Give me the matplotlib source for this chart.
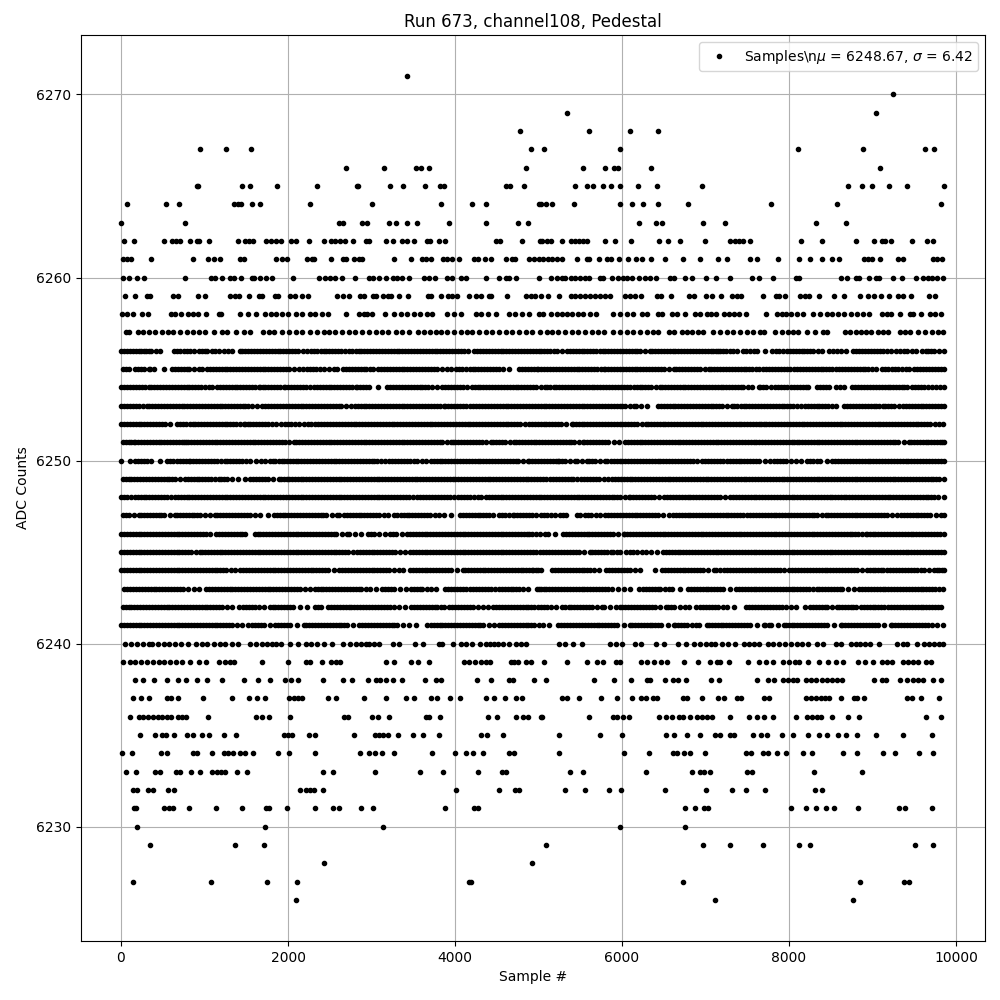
import matplotlib
matplotlib.use("Agg")
import matplotlib.pyplot as plt

s6271 = [3427]
s6270 = [9248]
s6269 = [5337, 9044]
s6268 = [4780, 5608, 6099, 6436]
s6267 = [950, 1261, 1560, 4912, 5070, 5979, 8110, 8888, 9630, 9738]
s6266 = [2697, 3152, 3535, 3595, 3691, 4852, 5536, 5800, 5907, 5955, 6350, 9090]
s6265 = [910, 926, 1452, 1548, 1871, 2350, 2821, 2841, 3216, 3380, 3643, 3818, 3874, 4612, 4664, 4828, 5441, 5585, 5657, 5777, 5873, 5979, 6195, 6422, 6961, 8708, 8876, 8996, 9200, 9416, 9858]
s6264 = [76, 543, 698, 1357, 1404, 1440, 1572, 1668, 2266, 3008, 3834, 4205, 4373, 5007, 5030, 5090, 5162, 5429, 5979, 6123, 6255, 6435, 6794, 7788, 8579, 9824]
s6263 = [4, 770, 2613, 2661, 2889, 2941, 3212, 3296, 3427, 3547, 3930, 4373, 4756, 4876, 6207, 6411, 6483, 6974, 7237, 8327, 8687]
s6262 = [40, 160, 519, 614, 662, 710, 826, 914, 938, 1057, 1404, 1488, 1536, 1584, 1740, 1800, 1855, 1919, 2039, 2091, 2254, 2434, 2514, 2566, 2625, 2685, 2781, 2937, 2973, 3176, 3260, 3368, 3420, 3511, 3667, 3699, 3810, 3882, 4493, 4541, 4804, 5016, 5046, 5098, 5154, 5281, 5385, 5437, 5489, 5537, 5577, 5796, 5920, 6111, 6447, 6555, 6698, 6998, 7297, 7353, 7405, 7453, 7537, 8148, 8391, 8806, 9022, 9110, 9150, 9226, 9477, 9657, 9720]
s6261 = [28, 68, 124, 364, 868, 1036, 1108, 1180, 1428, 1476, 1852, 1928, 1988, 2224, 2288, 2316, 2512, 2656, 2700, 2796, 2848, 2888, 3268, 3468, 3604, 3652, 3708, 3856, 3908, 3968, 4048, 4228, 4280, 4360, 4432, 4612, 4688, 4720, 4888, 4948, 5000, 5058, 5110, 5158, 5225, 5277, 5465, 5577, 5609, 5728, 5816, 5868, 5968, 6076, 6172, 6243, 6351, 6511, 6734, 6938, 7153, 7261, 7537, 7620, 7872, 8124, 8255, 8399, 8519, 8603, 8902, 8950, 8998, 9094, 9309, 9361, 9728, 9776, 9832]
s6260 = [20, 100, 188, 280, 768, 1080, 1124, 1204, 1300, 1356, 1432, 1564, 1596, 1660, 1732, 1804, 2056, 2368, 2448, 2508, 2568, 2648, 2800, 2968, 3020, 3088, 3172, 3260, 3308, 3368, 3448, 3628, 3688, 3760, 3908, 3968, 4076, 4132, 4376, 4528, 4608, 4648, 4736, 5006, 5145, 5217, 5277, 5317, 5385, 5437, 5497, 5557, 5609, 5736, 5776, 5876, 5956, 6016, 6056, 6116, 6207, 6275, 6335, 6403, 6575, 6623, 6758, 6842, 7010, 7130, 7297, 7561, 7645, 7812, 8080, 8120, 8618, 8698, 8798, 8842, 8962, 9042, 9082, 9245, 9349, 9517, 9609, 9669, 9709, 9768, 9840]
s6259 = [52, 172, 316, 348, 628, 688, 928, 1008, 1300, 1368, 1408, 1536, 1648, 1688, 1848, 1880, 2028, 2088, 2164, 2236, 2588, 2656, 2728, 2868, 2908, 3016, 3056, 3140, 3196, 3228, 3328, 3436, 3676, 3716, 3832, 3920, 3968, 4028, 4168, 4256, 4316, 4408, 4436, 4624, 4848, 4908, 4956, 5026, 5118, 5249, 5385, 5437, 5497, 5557, 5617, 5677, 5736, 5796, 5856, 6036, 6096, 6156, 6227, 6423, 6463, 6591, 6806, 6862, 7002, 7074, 7189, 7321, 7373, 7421, 7692, 7844, 7884, 7948, 8131, 8191, 8243, 8363, 8543, 8662, 8854, 8950, 9018, 9098, 9201, 9309, 9369, 9465, 9680, 9752]
s6258 = [8, 68, 148, 248, 328, 596, 648, 716, 800, 868, 928, 1012, 1168, 1200, 1420, 1516, 1620, 1728, 1796, 1860, 1928, 1996, 2100, 2164, 2268, 2328, 2408, 2476, 2696, 2848, 2908, 2948, 3008, 3160, 3268, 3348, 3428, 3508, 3580, 3668, 3728, 3900, 3988, 4072, 4248, 4316, 4396, 4488, 4648, 4720, 4808, 4888, 5000, 5050, 5145, 5217, 5277, 5337, 5397, 5477, 5537, 5617, 5684, 5896, 5976, 6056, 6128, 6235, 6295, 6435, 6475, 6595, 6655, 6758, 6874, 6934, 7014, 7062, 7130, 7225, 7285, 7341, 7401, 7489, 7720, 7852, 7912, 7964, 8020, 8092, 8171, 8291, 8371, 8451, 8511, 8591, 8658, 8738, 8810, 8890, 8954, 9109, 9169, 9217, 9333, 9449, 9489, 9577, 9688, 9748, 9816]
s6257 = [56, 100, 208, 268, 340, 408, 488, 568, 628, 708, 796, 868, 940, 1008, 1108, 1208, 1268, 1380, 1468, 1548, 1700, 1768, 1836, 1928, 2008, 2100, 2168, 2268, 2348, 2428, 2488, 2568, 2648, 2728, 2808, 2888, 2968, 3048, 3128, 3196, 3288, 3368, 3448, 3556, 3628, 3700, 3768, 3828, 3908, 3988, 4068, 4148, 4208, 4288, 4368, 4448, 4528, 4608, 4688, 4768, 4848, 4928, 5018, 5098, 5157, 5237, 5317, 5397, 5477, 5557, 5637, 5717, 5784, 5896, 5976, 6056, 6135, 6215, 6295, 6375, 6435, 6567, 6623, 6714, 6774, 6842, 6914, 6974, 7094, 7173, 7253, 7333, 7413, 7493, 7573, 7653, 7704, 7832, 7912, 7992, 8052, 8112, 8219, 8315, 8411, 8459, 8670, 8730, 8802, 8858, 8922, 8978, 9070, 9130, 9189, 9329, 9389, 9449, 9549, 9629, 9709, 9788, 9840]
s6256 = [0, 70, 140, 210, 270, 295, 365, 420, 470, 640, 710, 790, 870, 930, 1000, 1090, 1170, 1230, 1330, 1420, 1490, 1560, 1630, 1700, 1770, 1840, 1910, 1980, 2050, 2120, 2230, 2270, 2350, 2430, 2460, 2530, 2600, 2680, 2770, 2810, 2880, 2950, 3020, 3090, 3160, 3230, 3300, 3370, 3440, 3510, 3580, 3650, 3720, 3790, 3860, 3930, 4000, 4070, 4150, 4230, 4300, 4370, 4440, 4510, 4580, 4650, 4720, 4790, 4860, 4930, 5000, 5070, 5140, 5218, 5286, 5338, 5410, 5480, 5550, 5620, 5690, 5778, 5798, 5870, 5940, 6010, 6080, 6150, 6220, 6338, 6358, 6430, 6500, 6570, 6640, 6710, 6780, 6850, 6920, 6990, 7060, 7130, 7178, 7210, 7290, 7378, 7446, 7530, 7618, 7710, 7798, 7880, 7978, 8010, 8080, 8150, 8220, 8290, 8398, 8478, 8570, 8678, 8770, 8840, 8910, 8980, 9050, 9120, 9218, 9278, 9378, 9418, 9518, 9598, 9670, 9740, 9855]
e6256 = [35, 105, 175, 240, 330, 675, 750, 830, 965, 1035, 1130, 1280, 1455, 1525, 1595, 1665, 1735, 1805, 1875, 1945, 2015, 2085, 2175, 2310, 2390, 2495, 2565, 2640, 2725, 2845, 2915, 2985, 3055, 3125, 3195, 3265, 3335, 3405, 3475, 3545, 3615, 3685, 3755, 3825, 3895, 3965, 4035, 4110, 4265, 4335, 4405, 4475, 4545, 4615, 4685, 4755, 4825, 4895, 4965, 5035, 5105, 5180, 5374, 5445, 5515, 5585, 5655, 5735, 5834, 5905, 5975, 6045, 6115, 6185, 6280, 6394, 6465, 6535, 6605, 6675, 6745, 6815, 6885, 6955, 7025, 7095, 7155, 7250, 7335, 7488, 7575, 7840, 7930, 8045, 8115, 8185, 8255, 8345, 8525, 8625, 8805, 8875, 8945, 9015, 9085, 9170, 9330, 9470, 9635, 9705, 9800]
s6255 = [20, 100, 170, 240, 350, 400, 510, 610, 680, 750, 820, 930, 970, 1030, 1100, 1170, 1240, 1310, 1380, 1450, 1520, 1590, 1660, 1730, 1800, 1870, 1940, 2010, 2130, 2180, 2230, 2300, 2380, 2430, 2490, 2550, 2590, 2660, 2730, 2800, 2870, 2940, 3020, 3080, 3150, 3220, 3290, 3360, 3430, 3500, 3570, 3640, 3710, 3780, 3900, 3950, 4010, 4080, 4180, 4210, 4280, 4350, 4420, 4490, 4570, 4650, 4770, 4840, 4910, 4978, 4998, 5070, 5140, 5210, 5280, 5350, 5420, 5490, 5560, 5630, 5700, 5786, 5802, 5870, 5940, 6010, 6080, 6150, 6220, 6290, 6360, 6430, 6500, 6618, 6646, 6720, 6790, 6860, 6930, 7046, 7070, 7140, 7210, 7280, 7350, 7420, 7490, 7560, 7638, 7686, 7760, 7830, 7900, 7970, 8058, 8098, 8170, 8240, 8310, 8378, 8410, 8480, 8560, 8638, 8666, 8740, 8810, 8880, 8950, 9038, 9118, 9190, 9270, 9350, 9438, 9498, 9570, 9640, 9710, 9780, 9855]
e6255 = [60, 205, 275, 330, 645, 715, 785, 875, 1065, 1135, 1205, 1275, 1345, 1415, 1485, 1555, 1625, 1695, 1765, 1835, 1905, 1975, 2070, 2265, 2340, 2695, 2765, 2835, 2905, 2980, 3115, 3185, 3255, 3325, 3395, 3465, 3535, 3605, 3675, 3745, 3840, 4045, 4130, 4245, 4315, 4385, 4455, 4530, 4805, 4875, 4945, 5035, 5105, 5175, 5245, 5315, 5385, 5455, 5525, 5595, 5665, 5745, 5835, 5905, 5975, 6045, 6115, 6185, 6255, 6325, 6395, 6465, 6560, 6683, 6755, 6825, 6895, 6990, 7105, 7175, 7245, 7315, 7385, 7455, 7525, 7600, 7723, 7795, 7865, 7935, 8015, 8134, 8205, 8275, 8345, 8445, 8520, 8600, 8703, 8775, 8845, 8915, 8995, 9154, 9230, 9310, 9395, 9534, 9605, 9675, 9745, 9820]
s6254 = [0, 70, 140, 210, 290, 330, 400, 470, 540, 610, 680, 750, 820, 890, 960, 1050, 1090, 1150, 1220, 1290, 1360, 1430, 1500, 1570, 1650, 1660, 1730, 1800, 1870, 1950, 1970, 2040, 2110, 2180, 2260, 2310, 2380, 2450, 2520, 2590, 2660, 2730, 2810, 2830, 2900, 2970, 3080, 3190, 3260, 3330, 3400, 3470, 3540, 3610, 3680, 3780, 3850, 3920, 3990, 4060, 4140, 4200, 4270, 4340, 4410, 4480, 4550, 4620, 4690, 4760, 4830, 4900, 4970, 5078, 5106, 5180, 5250, 5320, 5390, 5460, 5530, 5600, 5670, 5740, 5810, 5880, 5950, 6020, 6098, 6138, 6210, 6280, 6350, 6458, 6478, 6550, 6620, 6690, 6760, 6830, 6900, 6970, 7040, 7110, 7180, 7250, 7320, 7390, 7450, 7506, 7558, 7638, 7658, 7730, 7838, 7866, 7938, 7978, 8058, 8098, 8170, 8226, 8338, 8410, 8478, 8558, 8658, 8758, 8830, 8900, 8970, 9040, 9110, 9180, 9250, 9320, 9378, 9418, 9478, 9550, 9620, 9718, 9758, 9855]
e6254 = [35, 105, 175, 250, 365, 435, 505, 575, 645, 715, 785, 855, 925, 1005, 1185, 1255, 1325, 1395, 1465, 1535, 1610, 1695, 1765, 1835, 1910, 2005, 2075, 2145, 2220, 2345, 2415, 2485, 2555, 2625, 2695, 2770, 2865, 2935, 3225, 3295, 3365, 3435, 3505, 3575, 3645, 3730, 3885, 3955, 4025, 4100, 4235, 4305, 4375, 4445, 4515, 4585, 4655, 4725, 4795, 4865, 4935, 5025, 5143, 5215, 5285, 5355, 5425, 5495, 5565, 5635, 5705, 5775, 5845, 5915, 5985, 6060, 6174, 6245, 6315, 6405, 6514, 6585, 6655, 6725, 6795, 6865, 6935, 7005, 7075, 7145, 7215, 7285, 7355, 7420, 7694, 7785, 7902, 8018, 8134, 8198, 8374, 8445, 8608, 8795, 8865, 8935, 9005, 9075, 9145, 9215, 9285, 9350, 9514, 9585, 9670, 9806]
s6253 = [0, 70, 140, 210, 310, 340, 410, 480, 550, 620, 690, 760, 830, 900, 970, 1040, 1110, 1180, 1250, 1320, 1390, 1460, 1520, 1570, 1690, 1730, 1800, 1870, 1940, 2010, 2080, 2150, 2220, 2290, 2360, 2430, 2500, 2570, 2640, 2750, 2800, 2870, 2940, 3010, 3080, 3150, 3220, 3290, 3360, 3430, 3500, 3570, 3640, 3710, 3780, 3870, 3880, 3950, 4020, 4090, 4180, 4220, 4290, 4360, 4430, 4500, 4570, 4640, 4710, 4780, 4850, 4920, 4990, 5060, 5130, 5200, 5270, 5340, 5410, 5480, 5550, 5620, 5690, 5760, 5830, 5900, 5970, 6040, 6138, 6166, 6298, 6430, 6500, 6570, 6640, 6710, 6780, 6850, 6920, 6990, 7060, 7130, 7200, 7318, 7346, 7420, 7490, 7560, 7630, 7700, 7770, 7840, 7910, 7980, 8050, 8138, 8190, 8260, 8330, 8400, 8470, 8558, 8658, 8730, 8800, 8870, 8940, 9018, 9046, 9120, 9190, 9260, 9370, 9398, 9470, 9540, 9610, 9678, 9718, 9790, 9855]
e6253 = [35, 105, 175, 260, 375, 445, 515, 585, 655, 725, 795, 865, 935, 1005, 1075, 1145, 1215, 1285, 1355, 1425, 1490, 1630, 1765, 1835, 1905, 1975, 2045, 2115, 2185, 2255, 2325, 2395, 2465, 2535, 2605, 2695, 2835, 2905, 2975, 3045, 3115, 3185, 3255, 3325, 3395, 3465, 3535, 3605, 3675, 3745, 3825, 3915, 3985, 4055, 4135, 4255, 4325, 4395, 4465, 4535, 4605, 4675, 4745, 4815, 4885, 4955, 5025, 5095, 5165, 5235, 5305, 5375, 5445, 5515, 5585, 5655, 5725, 5795, 5865, 5935, 6005, 6090, 6232, 6465, 6535, 6605, 6675, 6745, 6815, 6885, 6955, 7025, 7095, 7165, 7260, 7383, 7455, 7525, 7595, 7665, 7735, 7805, 7875, 7945, 8015, 8095, 8225, 8295, 8365, 8435, 8515, 8695, 8765, 8835, 8905, 8980, 9083, 9155, 9225, 9315, 9434, 9505, 9575, 9645, 9754, 9825]
s6252 = [0, 70, 140, 210, 280, 350, 420, 450, 530, 590, 670, 740, 860, 890, 960, 1030, 1100, 1170, 1240, 1310, 1380, 1470, 1480, 1550, 1620, 1690, 1760, 1860, 1920, 1960, 2030, 2130, 2190, 2280, 2360, 2400, 2470, 2540, 2610, 2680, 2750, 2820, 2890, 2960, 3030, 3100, 3170, 3240, 3310, 3380, 3450, 3520, 3590, 3660, 3730, 3800, 3870, 3940, 4010, 4080, 4150, 4220, 4290, 4360, 4430, 4500, 4570, 4640, 4710, 4780, 4890, 4920, 4990, 5060, 5130, 5200, 5270, 5398, 5410, 5480, 5550, 5620, 5690, 5760, 5830, 5900, 5970, 6040, 6110, 6180, 6290, 6306, 6380, 6450, 6520, 6590, 6660, 6730, 6800, 6870, 6940, 7010, 7080, 7150, 7220, 7290, 7360, 7430, 7500, 7570, 7640, 7698, 7730, 7800, 7870, 7940, 8010, 8080, 8150, 8220, 8290, 8360, 8430, 8500, 8570, 8640, 8710, 8780, 8850, 8920, 8990, 9060, 9130, 9200, 9270, 9340, 9410, 9480, 9550, 9620, 9690, 9798, 9850]
e6252 = [35, 105, 175, 245, 315, 385, 490, 705, 780, 830, 925, 995, 1065, 1135, 1205, 1275, 1345, 1425, 1515, 1585, 1655, 1725, 1810, 1995, 2080, 2235, 2320, 2435, 2505, 2575, 2645, 2715, 2785, 2855, 2925, 2995, 3065, 3135, 3205, 3275, 3345, 3415, 3485, 3555, 3625, 3695, 3765, 3835, 3905, 3975, 4045, 4115, 4185, 4255, 4325, 4395, 4465, 4535, 4605, 4675, 4745, 4835, 4955, 5025, 5095, 5165, 5235, 5335, 5445, 5515, 5585, 5655, 5725, 5795, 5865, 5935, 6005, 6075, 6145, 6235, 6343, 6415, 6485, 6555, 6625, 6695, 6765, 6835, 6905, 6975, 7045, 7115, 7185, 7255, 7325, 7395, 7465, 7535, 7605, 7670, 7765, 7835, 7905, 7975, 8045, 8115, 8185, 8255, 8325, 8395, 8465, 8535, 8605, 8675, 8745, 8815, 8885, 8955, 9025, 9095, 9165, 9235, 9305, 9375, 9445, 9515, 9585, 9655, 9745]
s6251 = [20, 90, 150, 170, 240, 310, 380, 450, 520, 590, 660, 730, 780, 800, 840, 910, 980, 1050, 1120, 1190, 1260, 1330, 1400, 1470, 1540, 1610, 1680, 1750, 1820, 1890, 1960, 2070, 2100, 2170, 2240, 2310, 2380, 2450, 2520, 2590, 2660, 2730, 2800, 2870, 2940, 3010, 3080, 3150, 3220, 3290, 3360, 3430, 3500, 3570, 3640, 3710, 3780, 3850, 3950, 3970, 4040, 4110, 4180, 4250, 4320, 4430, 4460, 4530, 4600, 4710, 4730, 4800, 4870, 4940, 5010, 5080, 5150, 5220, 5290, 5360, 5430, 5530, 5546, 5620, 5690, 5760, 5830, 5900, 6030, 6066, 6140, 6210, 6280, 6350, 6420, 6490, 6560, 6630, 6700, 6770, 6840, 6910, 6980, 7050, 7120, 7190, 7260, 7330, 7400, 7470, 7540, 7610, 7680, 7750, 7820, 7890, 7960, 8030, 8098, 8118, 8190, 8260, 8330, 8400, 8470, 8540, 8610, 8680, 8750, 8820, 8890, 8960, 9030, 9100, 9170, 9240, 9310, 9438, 9458, 9530, 9600, 9670, 9740, 9810, 9855]
e6251 = [55, 120, 205, 275, 345, 415, 485, 555, 625, 695, 755, 875, 945, 1015, 1085, 1155, 1225, 1295, 1365, 1435, 1505, 1575, 1645, 1715, 1785, 1855, 1925, 2015, 2135, 2205, 2275, 2345, 2415, 2485, 2555, 2625, 2695, 2765, 2835, 2905, 2975, 3045, 3115, 3185, 3255, 3325, 3395, 3465, 3535, 3605, 3675, 3745, 3815, 3900, 4005, 4075, 4145, 4215, 4285, 4375, 4495, 4565, 4655, 4765, 4835, 4905, 4975, 5045, 5115, 5185, 5255, 5325, 5395, 5480, 5583, 5655, 5725, 5795, 5965, 6103, 6175, 6245, 6315, 6385, 6455, 6525, 6595, 6665, 6735, 6805, 6875, 6945, 7015, 7085, 7155, 7225, 7295, 7365, 7435, 7505, 7575, 7645, 7715, 7785, 7855, 7925, 7995, 8064, 8154, 8225, 8295, 8365, 8435, 8505, 8575, 8645, 8715, 8785, 8855, 8925, 8995, 9065, 9135, 9205, 9275, 9375, 9494, 9565, 9635, 9705, 9775, 9832]
s6250 = [0, 110, 170, 240, 310, 360, 470, 550, 620, 710, 740, 810, 830, 900, 970, 1040, 1110, 1200, 1240, 1310, 1380, 1450, 1540, 1620, 1730, 1780, 1850, 1930, 1950, 2020, 2090, 2160, 2230, 2300, 2370, 2440, 2510, 2580, 2650, 2720, 2790, 2860, 2930, 3000, 3070, 3160, 3210, 3280, 3350, 3420, 3510, 3550, 3610, 3650, 3710, 3780, 3850, 3920, 3990, 4060, 4130, 4200, 4270, 4340, 4410, 4480, 4550, 4620, 4690, 4760, 4870, 4890, 4960, 5030, 5100, 5170, 5238, 5250, 5320, 5438, 5466, 5586, 5610, 5680, 5798, 5826, 5900, 5970, 6040, 6110, 6180, 6250, 6320, 6390, 6460, 6530, 6600, 6670, 6740, 6810, 6898, 6958, 7030, 7100, 7170, 7258, 7290, 7360, 7430, 7500, 7570, 7640, 7778, 7818, 7890, 7960, 8078, 8138, 8218, 8290, 8370, 8458, 8518, 8590, 8660, 8730, 8800, 8870, 8940, 9010, 9080, 9150, 9220, 9290, 9360, 9430, 9500, 9570, 9640, 9710, 9780, 9855]
e6250 = [205, 275, 585, 665, 775, 865, 935, 1005, 1075, 1155, 1275, 1345, 1415, 1495, 1675, 1815, 1890, 1985, 2055, 2125, 2195, 2265, 2335, 2405, 2475, 2545, 2615, 2685, 2755, 2825, 2895, 2965, 3035, 3115, 3245, 3315, 3385, 3465, 3745, 3815, 3885, 3955, 4025, 4095, 4165, 4235, 4305, 4375, 4445, 4515, 4585, 4655, 4725, 4815, 4925, 4995, 5065, 5135, 5205, 5285, 5380, 5526, 5645, 5740, 5863, 5935, 6005, 6075, 6145, 6215, 6285, 6355, 6425, 6495, 6565, 6635, 6705, 6775, 6855, 6994, 7065, 7135, 7215, 7325, 7395, 7465, 7535, 7605, 7710, 7854, 7925, 8020, 8254, 8330, 8554, 8625, 8695, 8765, 8835, 8905, 8975, 9045, 9115, 9185, 9255, 9325, 9395, 9465, 9535, 9605, 9675, 9745, 9818]
s6249 = [20, 90, 160, 230, 300, 370, 440, 510, 580, 650, 770, 800, 870, 940, 1010, 1080, 1170, 1200, 1270, 1400, 1480, 1550, 1620, 1690, 1760, 1890, 1920, 1990, 2010, 2080, 2150, 2220, 2290, 2360, 2430, 2500, 2570, 2640, 2710, 2780, 2850, 2920, 2990, 3060, 3130, 3200, 3270, 3340, 3410, 3480, 3550, 3620, 3690, 3760, 3830, 3900, 3970, 4040, 4110, 4180, 4250, 4320, 4390, 4460, 4530, 4600, 4670, 4740, 4810, 4880, 4950, 5020, 5090, 5138, 5210, 5280, 5350, 5418, 5458, 5506, 5580, 5650, 5720, 5838, 5878, 5950, 6020, 6090, 6160, 6230, 6300, 6370, 6440, 6510, 6580, 6650, 6720, 6790, 6860, 6930, 7000, 7070, 7140, 7210, 7280, 7350, 7420, 7490, 7560, 7630, 7700, 7770, 7840, 7910, 7980, 8050, 8120, 8190, 8260, 8330, 8400, 8470, 8540, 8610, 8680, 8750, 8820, 8890, 8960, 9030, 9100, 9170, 9240, 9310, 9380, 9450, 9520, 9590, 9660, 9730, 9798, 9855]
e6249 = [55, 125, 195, 265, 335, 405, 475, 545, 615, 710, 835, 905, 975, 1045, 1125, 1235, 1335, 1585, 1655, 1725, 1825, 1955, 2045, 2115, 2185, 2255, 2325, 2395, 2465, 2535, 2605, 2675, 2745, 2815, 2885, 2955, 3025, 3095, 3165, 3235, 3305, 3375, 3445, 3515, 3585, 3655, 3725, 3795, 3865, 3935, 4005, 4075, 4145, 4215, 4285, 4355, 4425, 4495, 4565, 4635, 4705, 4775, 4845, 4915, 4985, 5055, 5174, 5245, 5315, 5385, 5543, 5615, 5685, 5780, 5914, 5985, 6055, 6125, 6195, 6265, 6335, 6405, 6475, 6545, 6615, 6685, 6755, 6825, 6895, 6965, 7035, 7105, 7175, 7245, 7315, 7385, 7455, 7525, 7595, 7665, 7735, 7805, 7875, 7945, 8015, 8085, 8155, 8225, 8295, 8365, 8435, 8505, 8575, 8645, 8715, 8785, 8855, 8925, 8995, 9065, 9135, 9205, 9275, 9345, 9415, 9485, 9555, 9625, 9695, 9765]
s6248 = [0, 70, 170, 200, 270, 340, 410, 480, 550, 650, 680, 750, 820, 890, 960, 1030, 1100, 1170, 1240, 1310, 1380, 1450, 1520, 1590, 1660, 1730, 1800, 1870, 1940, 2010, 2080, 2150, 2220, 2290, 2360, 2430, 2500, 2570, 2640, 2710, 2780, 2850, 2920, 2990, 3060, 3130, 3200, 3270, 3340, 3410, 3500, 3550, 3620, 3690, 3760, 3830, 3900, 3990, 4040, 4110, 4180, 4270, 4310, 4370, 4440, 4510, 4580, 4650, 4720, 4790, 4860, 4930, 5000, 5070, 5140, 5210, 5280, 5350, 5420, 5490, 5560, 5630, 5700, 5770, 5840, 5910, 5980, 6078, 6098, 6170, 6240, 6310, 6380, 6498, 6538, 6610, 6680, 6750, 6820, 6890, 6960, 7030, 7100, 7170, 7290, 7330, 7400, 7470, 7540, 7610, 7680, 7750, 7820, 7890, 7960, 8030, 8100, 8170, 8240, 8310, 8380, 8450, 8520, 8590, 8658, 8686, 8760, 8830, 8900, 8970, 9040, 9110, 9180, 9250, 9320, 9390, 9460, 9530, 9600, 9670, 9740, 9855]
e6248 = [35, 120, 235, 305, 375, 445, 515, 600, 715, 785, 855, 925, 995, 1065, 1135, 1205, 1275, 1345, 1415, 1485, 1555, 1625, 1695, 1765, 1835, 1905, 1975, 2045, 2115, 2185, 2255, 2325, 2395, 2465, 2535, 2605, 2675, 2745, 2815, 2885, 2955, 3025, 3095, 3165, 3235, 3305, 3375, 3455, 3585, 3655, 3725, 3795, 3865, 3945, 4075, 4145, 4225, 4405, 4475, 4545, 4615, 4685, 4755, 4825, 4895, 4965, 5035, 5105, 5175, 5245, 5315, 5385, 5455, 5525, 5595, 5665, 5735, 5805, 5875, 5945, 6030, 6134, 6205, 6275, 6345, 6440, 6574, 6645, 6715, 6785, 6855, 6925, 6995, 7065, 7135, 7230, 7365, 7435, 7505, 7575, 7645, 7715, 7785, 7855, 7925, 7995, 8065, 8135, 8205, 8275, 8345, 8415, 8485, 8555, 8625, 8723, 8795, 8865, 8935, 9005, 9075, 9145, 9215, 9285, 9355, 9425, 9495, 9565, 9635, 9705, 9790]
s6247 = [20, 90, 210, 240, 310, 380, 450, 520, 650, 670, 740, 810, 880, 950, 1060, 1120, 1190, 1260, 1330, 1400, 1470, 1540, 1670, 1760, 1830, 1900, 1970, 2040, 2110, 2180, 2250, 2320, 2390, 2460, 2590, 2610, 2670, 2740, 2810, 2880, 2950, 3020, 3090, 3200, 3270, 3350, 3420, 3490, 3560, 3630, 3700, 3810, 3870, 3950, 4060, 4130, 4200, 4270, 4340, 4410, 4460, 4530, 4600, 4690, 4710, 4780, 4850, 4920, 5030, 5100, 5198, 5258, 5330, 5458, 5498, 5558, 5630, 5738, 5798, 5870, 5940, 6010, 6080, 6150, 6220, 6290, 6360, 6430, 6558, 6610, 6680, 6750, 6820, 6890, 6960, 7030, 7100, 7170, 7240, 7310, 7380, 7450, 7538, 7570, 7640, 7710, 7780, 7850, 7920, 7990, 8060, 8130, 8200, 8270, 8340, 8438, 8466, 8540, 8610, 8680, 8750, 8820, 8890, 8960, 9030, 9100, 9170, 9298, 9338, 9410, 9480, 9550, 9620, 9690, 9818, 9855]
e6247 = [55, 150, 275, 345, 415, 485, 585, 705, 775, 845, 915, 1005, 1155, 1225, 1295, 1365, 1435, 1505, 1605, 1865, 1935, 2005, 2075, 2145, 2215, 2285, 2355, 2425, 2525, 2705, 2775, 2845, 2915, 2985, 3055, 3145, 3310, 3385, 3455, 3525, 3595, 3665, 3755, 4095, 4165, 4235, 4305, 4375, 4565, 4645, 4745, 4815, 4885, 4975, 5065, 5150, 5295, 5595, 5685, 5835, 5905, 5975, 6045, 6115, 6185, 6255, 6325, 6395, 6495, 6645, 6715, 6785, 6855, 6925, 6995, 7065, 7135, 7205, 7275, 7345, 7415, 7495, 7605, 7675, 7745, 7815, 7885, 7955, 8025, 8095, 8165, 8235, 8305, 8390, 8503, 8575, 8645, 8715, 8785, 8855, 8925, 8995, 9065, 9135, 9235, 9375, 9445, 9515, 9585, 9655, 9755]
s6246 = [0, 70, 140, 210, 280, 350, 420, 490, 560, 630, 700, 770, 840, 910, 980, 1060, 1140, 1210, 1280, 1350, 1420, 1490, 1600, 1670, 1740, 1810, 1880, 1950, 2020, 2090, 2160, 2230, 2300, 2370, 2440, 2510, 2580, 2710, 2730, 2870, 2960, 3030, 3160, 3220, 3290, 3430, 3460, 3530, 3600, 3670, 3740, 3810, 3880, 3950, 4020, 4090, 4160, 4230, 4300, 4370, 4440, 4510, 4580, 4650, 4720, 4790, 4860, 4918, 4970, 5078, 5118, 5198, 5290, 5326, 5400, 5470, 5540, 5610, 5680, 5750, 5820, 5890, 6018, 6026, 6100, 6170, 6240, 6310, 6380, 6450, 6520, 6590, 6660, 6730, 6800, 6870, 6940, 7010, 7080, 7150, 7220, 7290, 7360, 7430, 7500, 7570, 7640, 7710, 7780, 7850, 7920, 7990, 8060, 8130, 8200, 8270, 8340, 8410, 8480, 8550, 8620, 8690, 8760, 8830, 8918, 8930, 9000, 9070, 9140, 9210, 9280, 9350, 9420, 9490, 9560, 9630, 9700, 9770, 9855]
e6246 = [35, 105, 175, 245, 315, 385, 455, 525, 595, 665, 735, 805, 875, 945, 1020, 1175, 1245, 1315, 1385, 1455, 1635, 1705, 1775, 1845, 1915, 1985, 2055, 2125, 2195, 2265, 2335, 2405, 2475, 2545, 2645, 2800, 2995, 3095, 3255, 3360, 3495, 3565, 3635, 3705, 3775, 3845, 3915, 3985, 4055, 4125, 4195, 4265, 4335, 4405, 4475, 4545, 4615, 4685, 4755, 4825, 4890, 5020, 5360, 5435, 5505, 5575, 5645, 5715, 5785, 5855, 5955, 6065, 6135, 6205, 6275, 6345, 6415, 6485, 6555, 6625, 6695, 6765, 6835, 6905, 6975, 7045, 7115, 7185, 7255, 7325, 7395, 7465, 7535, 7605, 7675, 7745, 7815, 7885, 7955, 8025, 8095, 8165, 8235, 8305, 8375, 8445, 8515, 8585, 8655, 8725, 8795, 8875, 8965, 9035, 9105, 9175, 9245, 9315, 9385, 9455, 9525, 9595, 9665, 9735, 9810]
s6245 = [0, 70, 140, 210, 280, 350, 420, 490, 560, 630, 700, 770, 840, 950, 970, 1040, 1110, 1180, 1250, 1320, 1390, 1460, 1530, 1600, 1670, 1740, 1810, 1880, 1950, 2020, 2090, 2160, 2230, 2300, 2370, 2440, 2510, 2580, 2650, 2720, 2830, 2860, 2930, 3000, 3070, 3140, 3210, 3280, 3400, 3460, 3530, 3600, 3670, 3740, 3810, 3880, 3950, 4020, 4090, 4160, 4230, 4300, 4370, 4440, 4510, 4580, 4650, 4720, 4790, 4860, 4930, 5018, 5058, 5130, 5200, 5270, 5340, 5410, 5480, 5618, 5638, 5710, 5780, 5866, 5898, 5978, 6050, 6130, 6238, 6286, 6418, 6486, 6560, 6630, 6700, 6770, 6840, 6910, 6980, 7050, 7120, 7190, 7260, 7330, 7400, 7470, 7540, 7610, 7680, 7750, 7820, 7890, 7960, 8030, 8100, 8170, 8240, 8310, 8380, 8450, 8520, 8590, 8660, 8730, 8800, 8870, 8940, 9010, 9080, 9150, 9220, 9290, 9360, 9430, 9500, 9570, 9640, 9710, 9780, 9855]
e6245 = [35, 105, 175, 245, 315, 385, 455, 525, 595, 665, 735, 805, 895, 1005, 1075, 1145, 1215, 1285, 1355, 1425, 1495, 1565, 1635, 1705, 1775, 1845, 1915, 1985, 2055, 2125, 2195, 2265, 2335, 2405, 2475, 2545, 2615, 2685, 2775, 2895, 2965, 3035, 3105, 3175, 3245, 3340, 3495, 3565, 3635, 3705, 3775, 3845, 3915, 3985, 4055, 4125, 4195, 4265, 4335, 4405, 4475, 4545, 4615, 4685, 4755, 4825, 4895, 4975, 5095, 5165, 5235, 5305, 5375, 5445, 5550, 5675, 5745, 5825, 5940, 6090, 6185, 6350, 6523, 6595, 6665, 6735, 6805, 6875, 6945, 7015, 7085, 7155, 7225, 7295, 7365, 7435, 7505, 7575, 7645, 7715, 7785, 7855, 7925, 7995, 8065, 8135, 8205, 8275, 8345, 8415, 8485, 8555, 8625, 8695, 8765, 8835, 8905, 8975, 9045, 9115, 9185, 9255, 9325, 9395, 9465, 9535, 9605, 9675, 9745, 9818]
s6244 = [0, 70, 140, 210, 280, 350, 420, 490, 560, 630, 700, 770, 840, 910, 980, 1050, 1120, 1190, 1260, 1370, 1430, 1500, 1570, 1640, 1710, 1780, 1850, 1920, 1990, 2060, 2130, 2200, 2270, 2340, 2410, 2480, 2610, 2650, 2720, 2790, 2860, 2930, 3000, 3070, 3140, 3210, 3330, 3380, 3460, 3530, 3600, 3670, 3740, 3810, 3880, 3950, 4090, 4120, 4190, 4260, 4330, 4400, 4470, 4540, 4610, 4680, 4750, 4820, 4890, 4970, 5030, 4918, 4998, 5158, 5198, 5270, 5340, 5410, 5480, 5550, 5620, 5726, 5810, 5880, 5950, 6020, 6090, 6210, 6390, 6478, 6550, 6620, 6690, 6760, 6830, 6900, 6970, 7098, 7130, 7218, 7258, 7330, 7400, 7470, 7540, 7610, 7680, 7750, 7820, 7890, 7998, 8038, 8110, 8180, 8250, 8320, 8390, 8460, 8530, 8600, 8670, 8740, 8810, 8870, 8930, 9000, 9070, 9130, 9178, 9250, 9320, 9390, 9460, 9530, 9618, 9678, 9738, 9800, 9855]
e6244 = [35, 105, 175, 245, 315, 385, 455, 525, 595, 665, 735, 805, 875, 945, 1015, 1085, 1155, 1225, 1315, 1465, 1535, 1605, 1675, 1745, 1815, 1885, 1955, 2025, 2095, 2165, 2235, 2305, 2375, 2445, 2545, 2685, 2755, 2825, 2895, 2965, 3035, 3105, 3175, 3270, 3495, 3565, 3635, 3705, 3775, 3845, 3915, 4020, 4155, 4225, 4295, 4365, 4435, 4505, 4575, 4645, 4715, 4785, 4855, 4930, 5235, 5305, 5375, 5445, 5515, 5585, 5670, 5845, 5915, 5985, 6055, 6150, 6515, 6585, 6655, 6725, 6795, 6865, 6935, 7035, 7175, 7295, 7365, 7435, 7505, 7575, 7645, 7715, 7785, 7855, 7945, 8075, 8145, 8215, 8285, 8355, 8425, 8495, 8565, 8635, 8705, 8775, 8965, 9035, 9100, 9215, 9285, 9355, 9425, 9495, 9575, 9770, 9828]
s6243 = [40, 110, 180, 250, 320, 390, 460, 530, 600, 670, 740, 870, 930, 1020, 1090, 1160, 1230, 1300, 1370, 1440, 1510, 1580, 1650, 1720, 1790, 1860, 1930, 2000, 2070, 2140, 2260, 2320, 2390, 2460, 2530, 2600, 2670, 2740, 2810, 2880, 2980, 3050, 3130, 3200, 3270, 3410, 3470, 3540, 3610, 3710, 3770, 3880, 3950, 4020, 4090, 4180, 4220, 4290, 4360, 4430, 4530, 4560, 4630, 4700, 4770, 4870, 5010, 4986, 5060, 5130, 5200, 5270, 5340, 5410, 5480, 5550, 5620, 5690, 5760, 5830, 5946, 6018, 6098, 6198, 6250, 6320, 6390, 6460, 6558, 6598, 6698, 6786, 6860, 6930, 7000, 7070, 7140, 7210, 7370, 7398, 7470, 7540, 7610, 7680, 7750, 7820, 7890, 7960, 8030, 8100, 8170, 8240, 8338, 8358, 8430, 8500, 8570, 8640, 8778, 8838, 8910, 8980, 9050, 9120, 9190, 9260, 9330, 9400, 9470, 9540, 9610, 9680, 9750, 9850]
e6243 = [75, 145, 215, 285, 355, 425, 495, 565, 635, 705, 805, 1055, 1125, 1195, 1265, 1335, 1405, 1475, 1545, 1615, 1685, 1755, 1825, 1895, 1965, 2035, 2105, 2200, 2355, 2425, 2495, 2565, 2635, 2705, 2775, 2845, 2930, 3165, 3235, 3340, 3505, 3575, 3660, 3915, 3985, 4055, 4135, 4255, 4325, 4395, 4480, 4595, 4665, 4735, 4820, 5025, 5095, 5165, 5235, 5305, 5375, 5445, 5515, 5585, 5655, 5725, 5795, 5885, 6285, 6355, 6425, 6510, 6823, 6895, 6965, 7035, 7105, 7175, 7290, 7434, 7505, 7575, 7645, 7715, 7785, 7855, 7925, 7995, 8065, 8135, 8205, 8290, 8394, 8465, 8535, 8605, 8710, 8874, 8945, 9015, 9085, 9155, 9225, 9295, 9365, 9435, 9505, 9575, 9645, 9715, 9800]
s6242 = [20, 90, 160, 230, 300, 370, 440, 510, 580, 650, 720, 790, 860, 930, 1000, 1070, 1140, 1210, 1330, 1410, 1460, 1530, 1600, 1710, 1780, 1850, 1920, 1990, 2060, 2230, 2320, 2400, 2480, 2550, 2620, 2690, 2760, 2830, 2900, 2970, 3040, 3110, 3180, 3270, 3330, 3470, 3510, 3580, 3650, 3720, 3790, 3870, 3930, 4000, 4070, 4140, 4210, 4330, 4400, 4460, 4530, 4600, 4670, 4740, 4810, 4880, 4950, 5030, 5100, 5210, 5286, 5360, 5430, 5500, 5570, 5640, 5758, 5786, 5930, 5970, 6040, 6110, 6180, 6250, 6320, 6390, 6530, 6546, 6620, 6758, 6806, 6886, 6938, 7010, 7080, 7150, 7258, 7338, 7490, 7560, 7630, 7700, 7770, 7840, 7910, 8018, 8086, 8186, 8250, 8320, 8390, 8460, 8570, 8598, 8670, 8740, 8798, 8858, 8930, 9000, 9070, 9138, 9186, 9260, 9330, 9400, 9470, 9540, 9610, 9680, 9750, 9818]
e6242 = [55, 125, 195, 265, 335, 405, 475, 545, 615, 685, 755, 825, 895, 965, 1035, 1105, 1175, 1270, 1495, 1565, 1655, 1815, 1885, 1955, 2025, 2145, 2360, 2515, 2585, 2655, 2725, 2795, 2865, 2935, 3005, 3075, 3145, 3225, 3400, 3545, 3615, 3685, 3755, 3830, 3965, 4035, 4105, 4175, 4270, 4495, 4565, 4635, 4705, 4775, 4845, 4915, 4990, 5065, 5155, 5323, 5395, 5465, 5535, 5605, 5700, 5860, 6005, 6075, 6145, 6215, 6285, 6355, 6460, 6583, 6690, 6974, 7045, 7115, 7205, 7525, 7595, 7665, 7735, 7805, 7875, 7965, 8285, 8355, 8425, 8515, 8634, 8705, 8770, 8894, 8965, 9035, 9105, 9223, 9295, 9365, 9435, 9505, 9575, 9645, 9715, 9785]
s6241 = [0, 70, 140, 210, 280, 350, 420, 490, 560, 630, 700, 770, 840, 910, 980, 1050, 1120, 1190, 1260, 1330, 1450, 1520, 1570, 1640, 1710, 1850, 1880, 1950, 2020, 2190, 2220, 2290, 2360, 2430, 2500, 2570, 2640, 2710, 2850, 2890, 2960, 3030, 3100, 3170, 3240, 3310, 3450, 3530, 3660, 3710, 3780, 3850, 3920, 3990, 4060, 4130, 4200, 4270, 4340, 4470, 4530, 4600, 4670, 4740, 4810, 4880, 4950, 5050, 5130, 5238, 5310, 5380, 5450, 5520, 5590, 5660, 5730, 5800, 5870, 5940, 6098, 6118, 6190, 6260, 6330, 6400, 6470, 6618, 6638, 6710, 6780, 6890, 6918, 7018, 7038, 7110, 7180, 7250, 7320, 7390, 7460, 7530, 7698, 7718, 7790, 7938, 7958, 8030, 8100, 8170, 8240, 8310, 8380, 8450, 8618, 8638, 8710, 8780, 8850, 8920, 8990, 9060, 9218, 9238, 9310, 9380, 9450, 9520, 9590, 9660, 9770, 9850]
e6241 = [35, 105, 175, 245, 315, 385, 455, 525, 595, 665, 735, 805, 875, 945, 1015, 1085, 1155, 1225, 1295, 1390, 1605, 1675, 1780, 1915, 1985, 2105, 2255, 2325, 2395, 2465, 2535, 2605, 2675, 2780, 2925, 2995, 3065, 3135, 3205, 3275, 3380, 3745, 3815, 3885, 3955, 4025, 4095, 4165, 4235, 4305, 4405, 4565, 4635, 4705, 4775, 4845, 4915, 5000, 5274, 5345, 5415, 5485, 5555, 5625, 5695, 5765, 5835, 5905, 6020, 6154, 6225, 6295, 6365, 6435, 6545, 6675, 6745, 6835, 7075, 7145, 7215, 7285, 7355, 7425, 7495, 7615, 7755, 7865, 7995, 8065, 8135, 8205, 8275, 8345, 8415, 8535, 8675, 8745, 8815, 8885, 8955, 9025, 9140, 9275, 9345, 9415, 9485, 9555, 9625, 9715]
s6240 = [50, 120, 190, 260, 330, 370, 440, 510, 580, 650, 720, 800, 900, 970, 1030, 1110, 1180, 1250, 1330, 1400, 1550, 1620, 1690, 1750, 1810, 1860, 1920, 2020, 2120, 2210, 2280, 2350, 2430, 2530, 2660, 2740, 2810, 2870, 2930, 2970, 3030, 3090, 3260, 3330, 3520, 3620, 3810, 3850, 3980, 4070, 4130, 4200, 4300, 4370, 4420, 4470, 4510, 4570, 4650, 4730, 4790, 4850, 5250, 5320, 5418, 5518, 5858, 5926, 5998, 6150, 6226, 6410, 6498, 6666, 6766, 6858, 6930, 7000, 7060, 7118, 7198, 7270, 7358, 7458, 7518, 7578, 7638, 7746, 7810, 7880, 7950, 8020, 8090, 8160, 8230, 8338, 8410, 8558, 8618, 8738, 8800, 8850, 8910, 8970, 9078, 9298, 9360, 9418, 9538, 9618, 9680, 9740, 9798, 9850]
s6239 = [28, 108, 170, 240, 310, 380, 450, 520, 590, 660, 728, 832, 940, 1016, 1168, 1248, 1300, 1348, 1692, 1996, 2216, 2268, 2404, 2520, 2570, 2628, 3176, 3264, 3476, 3556, 3688, 4108, 4170, 4240, 4310, 4368, 4420, 4668, 4710, 4756, 4856, 4916, 5066, 5345, 5584, 5696, 5776, 5928, 5976, 6223, 6295, 6379, 6463, 6543, 6746, 6914, 7054, 7134, 7173, 7281, 7513, 7645, 7720, 7804, 7932, 8000, 8070, 8124, 8223, 8363, 8471, 8563, 8651, 8822, 8910, 9010, 9110, 9169, 9237, 9369, 9430, 9490, 9549, 9641, 9700]
s6238 = [172, 268, 400, 556, 688, 784, 916, 1024, 1204, 1468, 1636, 1780, 1968, 2032, 2116, 2420, 2660, 2764, 2956, 3048, 3100, 3172, 3260, 3364, 3640, 3772, 3832, 4268, 4428, 4648, 4700, 4948, 5090, 5668, 5908, 6111, 6295, 6335, 6519, 6615, 6675, 6770, 7070, 7166, 7620, 7752, 7824, 7932, 7992, 8052, 8092, 8203, 8263, 8323, 8391, 8451, 8511, 8571, 8630, 9022, 9110, 9161, 9333, 9417, 9489, 9549, 9609, 9728, 9820]
s6237 = [148, 244, 340, 556, 604, 688, 988, 1324, 1528, 1624, 1720, 2008, 2068, 2116, 2164, 2476, 2572, 2908, 3172, 3412, 3508, 3716, 3788, 3940, 4064, 4372, 4468, 4600, 4736, 4804, 5285, 5345, 5489, 5752, 5944, 6123, 6231, 6291, 6375, 6423, 6734, 6774, 6962, 7153, 7225, 7381, 7421, 7704, 7764, 8203, 8263, 8323, 8383, 8431, 8479, 8627, 8778, 8818, 8902, 9409, 9469, 9585, 9800]
s6236 = [112, 220, 268, 320, 380, 440, 488, 556, 596, 688, 728, 780, 1036, 1612, 1688, 1768, 2020, 2668, 2716, 3004, 3076, 3208, 3648, 3692, 3820, 4396, 4504, 4732, 4816, 4876, 5028, 5038, 5608, 5896, 5936, 6008, 6088, 6447, 6527, 6595, 6682, 6726, 6818, 6902, 6954, 7022, 7078, 7297, 7525, 7612, 7704, 7812, 8088, 8219, 8271, 8331, 8379, 8519, 8710, 8842, 9645, 9824]
s6235 = [232, 412, 488, 536, 640, 796, 868, 976, 1048, 1228, 1372, 1948, 1996, 2048, 2248, 2320, 2788, 3040, 3088, 3140, 3200, 3316, 3496, 3616, 3808, 4312, 4384, 4576, 5249, 5740, 6004, 6531, 6627, 6782, 6934, 7118, 7173, 7293, 7341, 7573, 7660, 7740, 7920, 8052, 8231, 8363, 8451, 8591, 8686, 8818, 9046, 9365, 9716]
s6234 = [16, 136, 476, 548, 868, 916, 1088, 1228, 1276, 1336, 1420, 1480, 1576, 1880, 2008, 2320, 2860, 2968, 3040, 3128, 3268, 3724, 4000, 4132, 4216, 4336, 4648, 4708, 5249, 6028, 6327, 6607, 6655, 6738, 6818, 6998, 7489, 7549, 7692, 7744, 7852, 7964, 8171, 8279, 8650, 8818, 9129, 9273, 9561, 9728]
s6233 = [64, 184, 412, 472, 664, 712, 844, 952, 1084, 1144, 1196, 1244, 1384, 1504, 2416, 2536, 3040, 3580, 3856, 4276, 4564, 4616, 5381, 5537, 6291, 6842, 6938, 6986, 7058, 7501, 7561, 8303, 8878]
s6232 = [140, 196, 328, 388, 568, 640, 2140, 2212, 2260, 2308, 2416, 4012, 4528, 4720, 4772, 5321, 5561, 5848, 5992, 6519, 7010, 7321, 7489, 7716, 8315, 8399]
s6231 = [156, 180, 520, 580, 628, 820, 1132, 1444, 1732, 1776, 1984, 2320, 2536, 2608, 2872, 3016, 3880, 4228, 4276, 6758, 6878, 6986, 7034, 8028, 8207, 8327, 8447, 8543, 8830, 9321, 9393, 9716]
s6230 = [196, 1720, 3136, 5980, 6758]
s6229 = [352, 1360, 1708, 5094, 6974, 7297, 7692, 8124, 8255, 9513, 9728]
s6228 = [2428, 4924]
s6227 = [148, 1072, 1744, 2104, 4168, 4196, 6734, 8854, 9381, 9441]
s6226 = [2092, 7118, 8770]

rows = {6271: s6271, 6270: s6270, 6269: s6269, 6268: s6268, 6267: s6267, 6266: s6266,
        6265: s6265, 6264: s6264, 6263: s6263, 6262: s6262, 6261: s6261, 6260: s6260,
        6259: s6259, 6258: s6258, 6257: s6257, 6256: s6256 + e6256, 6255: s6255 + e6255,
        6254: s6254 + e6254, 6253: s6253 + e6253, 6252: s6252 + e6252, 6251: s6251 + e6251,
        6250: s6250 + e6250, 6249: s6249 + e6249, 6248: s6248 + e6248, 6247: s6247 + e6247,
        6246: s6246 + e6246, 6245: s6245 + e6245, 6244: s6244 + e6244, 6243: s6243 + e6243,
        6242: s6242 + e6242, 6241: s6241 + e6241, 6240: s6240, 6239: s6239, 6238: s6238,
        6237: s6237, 6236: s6236, 6235: s6235, 6234: s6234, 6233: s6233, 6232: s6232,
        6231: s6231, 6230: s6230, 6229: s6229, 6228: s6228, 6227: s6227, 6226: s6226}

samples = []
counts = []
for level, xs in rows.items():
    samples.extend(xs)
    counts.extend([level] * len(xs))

fig, ax = plt.subplots(figsize=(10, 10), dpi=100)
ax.plot(samples, counts, "k.", label=r"Samples\n$\mu$ = 6248.67, $\sigma$ = 6.42")
ax.set_xlim(-479, 10347)
ax.set_ylim(6223.75, 6273.25)
ax.set_title("Run 673, channel108, Pedestal")
ax.set_xlabel("Sample #")
ax.set_ylabel("ADC Counts")
ax.legend(loc="upper right")
ax.grid(True)
fig.subplots_adjust(left=0.081, right=0.985, top=0.965, bottom=0.059)
fig.savefig("out.png", dpi=100)
